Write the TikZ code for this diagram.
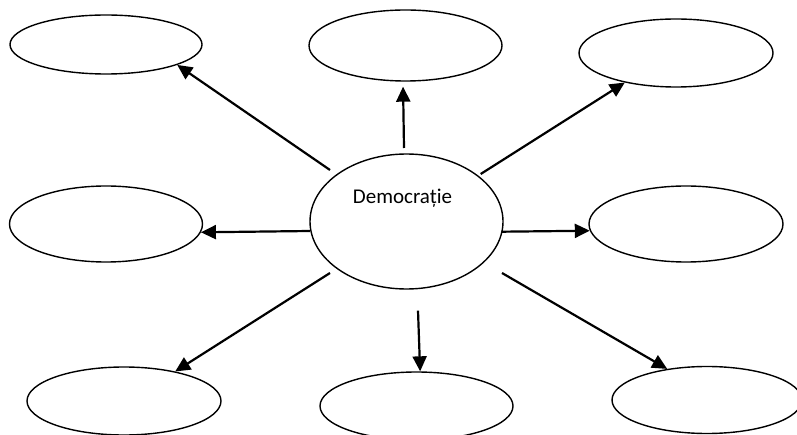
\documentclass[tikz,border=0pt]{standalone}
\usepackage{fontspec}
\setmainfont{Carlito}
\usetikzlibrary{shapes.geometric,arrows.meta}
\tikzset{
  bubble/.style={ellipse,draw=black,line width=1.4pt,inner sep=0pt},
  link/.style={line width=2.2pt,-{Triangle[length=15pt,width=14pt]}}
}
\begin{document}
\begin{tikzpicture}[x=1pt,y=-1pt]
\useasboundingbox (0,0) rectangle (797,435);
\node[bubble,minimum width=192pt,minimum height=59pt] (tl) at (106,44.5) {};
\node[bubble,minimum width=193pt,minimum height=71pt] (tm) at (405.5,45.5) {};
\node[bubble,minimum width=194pt,minimum height=68pt] (tr) at (676,53) {};
\node[bubble,minimum width=193pt,minimum height=76pt] (ml) at (106,224) {};
\node[bubble,minimum width=193pt,minimum height=135pt] (c) at (406.5,221.5) {};
\node[bubble,minimum width=194pt,minimum height=76pt] (mr) at (686,224) {};
\node[bubble,minimum width=194pt,minimum height=68pt] (bl) at (124,401) {};
\node[bubble,minimum width=193pt,minimum height=68pt] (bm) at (416.5,406) {};
\node[bubble,minimum width=190pt,minimum height=67pt] (br) at (707,400) {};
\node[anchor=base,font=\fontsize{21}{25}\selectfont,inner sep=0pt] (ctext) at (402.5,204) {Democrație};
\coordinate (s1) at (330,170);
\coordinate (s2) at (404,148);
\coordinate (s3) at (480.7,174);
\coordinate (s4) at (310,231);
\coordinate (s5) at (501.7,231.7);
\coordinate (s6) at (330,273);
\coordinate (s7) at (418,310.7);
\coordinate (s8) at (502,273);
\draw[link] (s1) -- (tl.-16.4);
\draw[link,shorten >=5pt] (s2) -- (tm.-94);
\draw[link] (s3) -- (tr.210.6);
\draw[link] (s4) -- (ml.-5.4);
\draw[link] (s5) -- (mr.184.5);
\draw[link] (s6) -- (bl.30);
\draw[link] (s7) -- (bm.84.2);
\draw[link] (s8) -- (br.142.5);
\end{tikzpicture}
\end{document}
